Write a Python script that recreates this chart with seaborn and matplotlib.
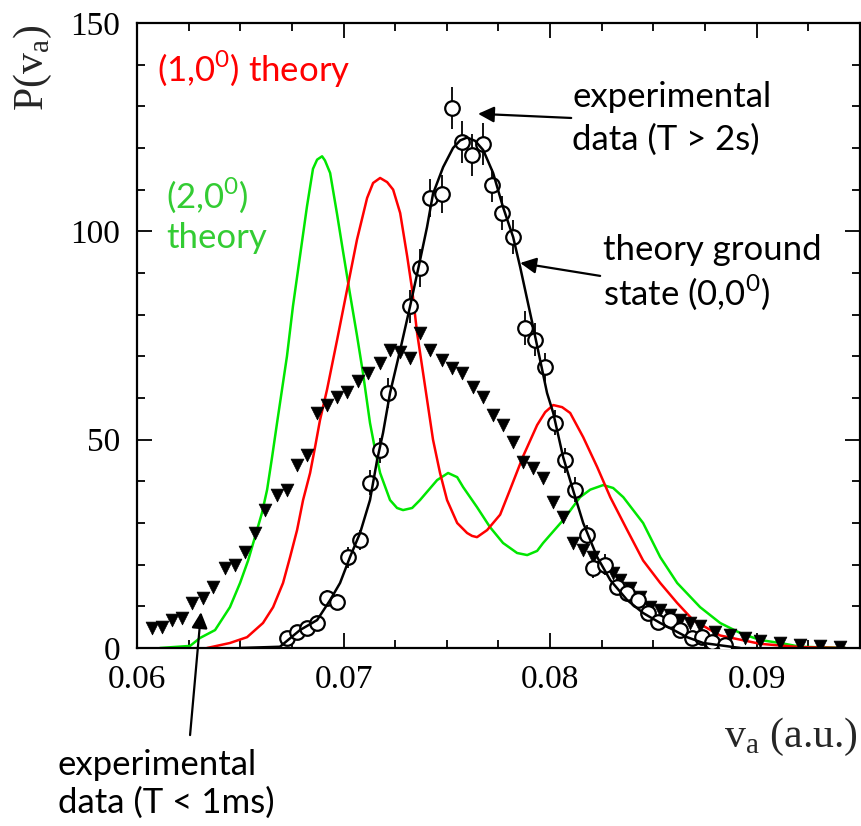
import matplotlib
matplotlib.use('Agg')
import matplotlib.pyplot as plt
import seaborn as sns
from matplotlib.ticker import MultipleLocator, FormatStrFormatter

# (2,0^0) theory curve
green_x = [0.06111, 0.06257, 0.06305, 0.06378, 0.06450, 0.06499, 0.06538, 0.06571, 0.06605, 0.06630,
           0.06654, 0.06678, 0.06702, 0.06726, 0.06755, 0.06789, 0.06823, 0.06852, 0.06872, 0.06896,
           0.06910, 0.06935, 0.06969, 0.06998, 0.07031, 0.07065, 0.07094, 0.07128, 0.07153, 0.07177,
           0.07225, 0.07259, 0.07288, 0.07332, 0.07370, 0.07453, 0.07506, 0.07550, 0.07579, 0.07646,
           0.07709, 0.07772, 0.07840, 0.07889, 0.07937, 0.07966, 0.08063, 0.08145, 0.08194, 0.08257,
           0.08305, 0.08354, 0.08450, 0.08533, 0.08615, 0.08726, 0.08823, 0.08920, 0.09017, 0.09114,
           0.09211, 0.09429]
green_y = [0, 0.5, 2.4, 4.3, 9.8, 15.6, 21, 26.6, 32.4, 38,
           45.8, 54, 62, 70, 82, 94, 106, 115, 117.2, 118,
           117, 114, 104, 95, 85, 75, 66, 54, 47.5, 42,
           35.5, 33.6, 33.1, 33.6, 35.5, 40.3, 42, 41, 38.6, 33.8,
           29, 25.2, 22.8, 22.3, 23.3, 25.2, 30.7, 36.2, 38, 39.1,
           38.4, 36.2, 30, 21.8, 15.6, 9.8, 6, 3.6, 1.9, 1.2,
           0.3, 0]

# (1,0^0) theory curve
red_x = [0.06339, 0.06450, 0.06533, 0.06610, 0.06659, 0.06707, 0.06741, 0.06775, 0.06804, 0.06838,
         0.06862, 0.06886, 0.06920, 0.06969, 0.07017, 0.07065, 0.07114, 0.07143, 0.07177, 0.07211,
         0.07240, 0.07274, 0.07308, 0.07332, 0.07356, 0.07385, 0.07433, 0.07467, 0.07501, 0.07550,
         0.07598, 0.07622, 0.07646, 0.07695, 0.07758, 0.07806, 0.07869, 0.07937, 0.07976, 0.08015,
         0.08058, 0.08097, 0.08160, 0.08228, 0.08291, 0.08373, 0.08450, 0.08533, 0.08615, 0.08692,
         0.08823, 0.09017, 0.09211, 0.09429]
red_y = [0, 1.2, 2.6, 6, 9.8, 15.6, 21.8, 28.3, 35.5, 42,
         48.2, 54.7, 62, 74, 86, 98, 108, 111.6, 112.8, 111.8,
         110, 104.4, 94, 86, 75.6, 66, 50, 42, 35.5, 30,
         27.6, 26.9, 26.6, 28.3, 32, 38, 46, 53.5, 56.6, 58.3,
         57.8, 56.4, 50.6, 43.4, 36.2, 28.3, 21, 15.6, 10.8, 6.7,
         3, 1, 0.2, 0]

# theory ground state (0,0^0)
gs_x = [0.06499, 0.06692, 0.06789, 0.06872, 0.06935, 0.06983, 0.07031, 0.07080, 0.07128, 0.07162,
        0.07191, 0.07225, 0.07274, 0.07322, 0.07370, 0.07404, 0.07433, 0.07482, 0.07530, 0.07564,
        0.07598, 0.07637, 0.07676, 0.07724, 0.07772, 0.07821, 0.07855, 0.07918, 0.07985, 0.08015,
        0.08063, 0.08111, 0.08160, 0.08228, 0.08291, 0.08373, 0.08450, 0.08533, 0.08663, 0.08741,
        0.08920]
gs_y = [0, 0.3, 4.3, 6.7, 11.5, 15.6, 21.8, 27.6, 35.5, 45,
        51.6, 61.2, 71.5, 82, 93, 101, 109, 115.4, 120, 121.8,
        122.5, 121.7, 119.5, 114, 105.8, 98.6, 91.4, 77, 61.2, 56.4,
        45.8, 37.9, 30, 21.8, 16.3, 11.5, 8.4, 6, 2.6, 1.2,
        0]

# experimental data T > 2s (open circles with error bars)
circ_x = [0.06726, 0.06775, 0.06823, 0.06872, 0.06920, 0.06969, 0.07022, 0.07080, 0.07128, 0.07177,
          0.07215, 0.07322, 0.07370, 0.07419, 0.07477, 0.07525, 0.07574, 0.07622, 0.07676, 0.07719,
          0.07768, 0.07821, 0.07879, 0.07927, 0.07976, 0.08024, 0.08073, 0.08121, 0.08179, 0.08208,
          0.08266, 0.08324, 0.08373, 0.08426, 0.08475, 0.08523, 0.08581, 0.08630, 0.08688, 0.08736,
          0.08785, 0.08847]
circ_y = [2.4, 3.8, 4.8, 6, 12, 11, 21.8, 25.9, 39.6, 47.5,
          61.2, 82, 91.2, 108, 109, 129.6, 121.4, 118.3, 121, 111,
          104.4, 98.6, 76.8, 74, 67.4, 54, 45, 38, 27.1, 19.2,
          20, 14.6, 13.2, 11.5, 8.4, 6.2, 6.7, 4.3, 2.4, 2.6,
          1.5, 0.8]
circ_err = [1, 1, 1, 1.5, 2, 2, 2.5, 2.5, 3, 3,
            3.5, 4, 4.5, 4.5, 4.5, 5, 5, 5, 5, 4,
            4, 4, 4, 4, 3.5, 3, 3, 3, 2.5, 2.5,
            2.5, 2, 2, 2, 1.5, 1.5, 1.5, 1, 1, 1,
            1, 1]

# experimental data T < 1ms (filled triangles)
tri_x = [0.06073, 0.06121, 0.06169, 0.06218, 0.06266, 0.06320, 0.06368, 0.06426, 0.06475, 0.06523,
         0.06571, 0.06620, 0.06678, 0.06726, 0.06775, 0.06823, 0.06872, 0.06920, 0.06969, 0.07017,
         0.07070, 0.07119, 0.07177, 0.07225, 0.07274, 0.07322, 0.07370, 0.07419, 0.07477, 0.07525,
         0.07574, 0.07627, 0.07676, 0.07724, 0.07772, 0.07821, 0.07869, 0.07918, 0.07966, 0.08015,
         0.08063, 0.08111, 0.08160, 0.08208, 0.08257, 0.08305, 0.08339, 0.08387, 0.08436, 0.08484,
         0.08533, 0.08581, 0.08630, 0.08678, 0.08726, 0.08799, 0.08872, 0.08944, 0.09017, 0.09114,
         0.09211, 0.09308, 0.09404]
tri_y = [4.8, 5, 6.7, 7.2, 10.8, 12, 14.6, 19.2, 20, 23,
         27.6, 33.1, 36.7, 38, 43.9, 46.3, 56.4, 58.3, 60.2, 61.5,
         64, 66, 68.4, 71.5, 71, 69.6, 75.7, 71.5, 69, 67.2,
         66, 62.6, 60.2, 56, 53.5, 49.4, 44.6, 43.2, 40.8, 35,
         31.4, 25.2, 23.5, 21.8, 19.4, 18, 16.3, 14.4, 12.2, 9.8,
         9.1, 7.9, 6.7, 6, 5.2, 3.8, 3.1, 2.4, 1.7, 1.2,
         0.7, 0.5, 0.3]

sns.set_theme(style='ticks')
plt.rcParams['font.family'] = ['Liberation Serif', 'DejaVu Serif']
sans = ['Lato', 'DejaVu Sans']
fs = 25

fig = plt.figure(figsize=(8.62, 8.26), dpi=100)
ax = fig.add_axes([0.1589, 0.2155, 0.8388, 0.7567])

sns.lineplot(x=green_x, y=green_y, color='#00e600', lw=1.8, sort=False, estimator=None, ax=ax, zorder=2)
sns.lineplot(x=red_x, y=red_y, color='#ff0000', lw=1.8, sort=False, estimator=None, ax=ax, zorder=2)
sns.scatterplot(x=tri_x, y=tri_y, marker='v', s=85, color='black', edgecolor='black', linewidth=0.5,
                ax=ax, zorder=3)
ax.errorbar(circ_x, circ_y, yerr=circ_err, fmt='none', ecolor='black', elinewidth=1.3, capsize=0, zorder=4)
sns.scatterplot(x=circ_x, y=circ_y, marker='o', s=110, facecolor='white', edgecolor='black', linewidth=1.6,
                ax=ax, zorder=5)
sns.lineplot(x=gs_x, y=gs_y, color='black', lw=1.8, sort=False, estimator=None, ax=ax, zorder=6)

ax.set_xlim(0.06, 0.095)
ax.set_ylim(0, 150)
ax.xaxis.set_major_locator(MultipleLocator(0.01))
ax.xaxis.set_minor_locator(MultipleLocator(0.0025))
ax.yaxis.set_major_locator(MultipleLocator(50))
ax.yaxis.set_minor_locator(MultipleLocator(10))
ax.xaxis.set_major_formatter(FormatStrFormatter('%.2f'))
ax.yaxis.set_major_formatter(FormatStrFormatter('%d'))
ax.tick_params(which='both', direction='in', top=True, right=True, width=1.3, color='black',
               labelsize=24, labelcolor='black', pad=12)
ax.tick_params(which='major', length=11)
ax.tick_params(which='minor', length=6)
for s in ax.spines.values():
    s.set_color('black')
    s.set_linewidth(1.6)
ax.set_xlabel('')
ax.set_ylabel('')

# axis labels
fig.text(0.0383, 0.9177, 'P(v$_\\mathregular{a}$)', rotation=90, ha='center', va='center', fontsize=30)
fig.text(0.9954, 0.1077, 'v$_\\mathregular{a}$ (a.u.)', ha='right', va='center', fontsize=30)

# curve labels
ax.text(0.06097, 135.8, '(1,0$^\\mathregular{0}$) theory', color='#ff0000', fontsize=fs, family=sans)
ax.text(0.0614, 105.6, '(2,0$^\\mathregular{0}$)', color='#33cc33', fontsize=fs, family=sans)
ax.text(0.0614, 96.0, 'theory', color='#33cc33', fontsize=fs, family=sans)

arrow = dict(arrowstyle='-|>', color='black', lw=1.6, mutation_scale=24, shrinkA=0, shrinkB=0)

ax.text(0.08107, 129.8, 'experimental', fontsize=fs, family=sans, color='black')
ax.text(0.08107, 119.5, 'data (T > 2s)', fontsize=fs, family=sans, color='black')
ax.annotate('', xy=(0.07651, 128.2), xytext=(0.08102, 127.2), arrowprops=arrow)

ax.text(0.08257, 93.1, 'theory ground', fontsize=fs, family=sans, color='black')
ax.text(0.08257, 82.3, 'state (0,0$^\\mathregular{0}$)', fontsize=fs, family=sans, color='black')
ax.annotate('', xy=(0.07855, 92.4), xytext=(0.08242, 89.3), arrowprops=arrow)

ax.text(0.05617, -30.5, 'experimental', fontsize=fs, family=sans, color='black', clip_on=False)
ax.text(0.05617, -39.6, 'data (T < 1ms)', fontsize=fs, family=sans, color='black', clip_on=False)
ax.annotate('', xy=(0.0631, 8.6), xytext=(0.06257, -20.9), annotation_clip=False, arrowprops=arrow)

fig.savefig('out.png', dpi=100)
